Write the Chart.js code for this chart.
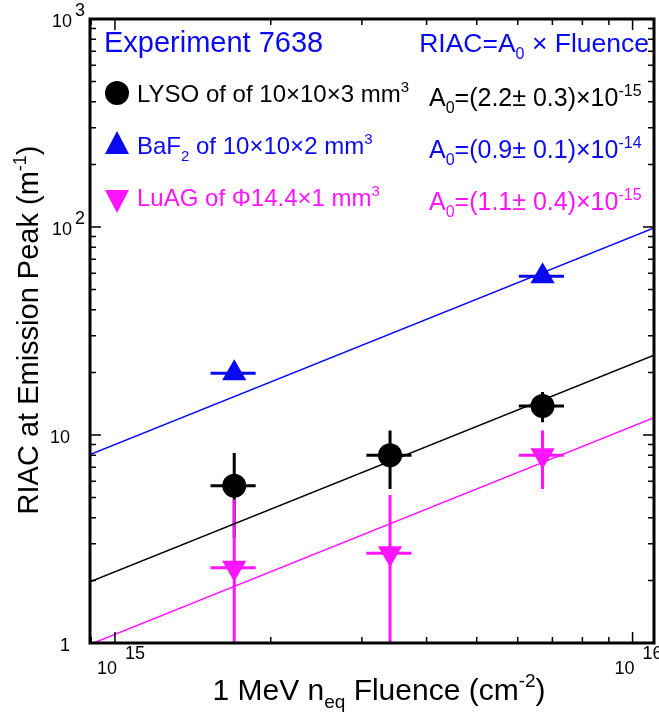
<!DOCTYPE html>
<html>
<head>
<meta charset="utf-8">
<script src="https://cdn.jsdelivr.net/npm/chart.js@4/dist/chart.umd.min.js"></script>
<style>
  html, body { margin: 0; padding: 0; background: #fff; }
  #wrap { width: 659px; height: 712px; }
</style>
</head>
<body>
<div id="wrap"><canvas id="c" width="659" height="712"></canvas></div>
<script>
'use strict';

// fluence points (cm^-2) and RIAC values (m^-1)
var fluence = [1.7e15, 3.4e15, 6.7e15];
var fluenceErr = [0.17e15, 0.34e15, 0.67e15];
var lysoRiac = [5.7, 8.0, 13.8];
var lysoErr = [2.5, 2.5, 2.3];
var baf2Fluence = [1.7e15, 6.7e15];
var baf2FluenceErr = [0.17e15, 0.67e15];
var baf2Riac = [19.8, 58];
var baf2Err = [0.8, 2.0];
var luagRiac = [2.3, 2.7, 8.0];
var luagErr = [2.6, 2.45, 2.5];

// fitted lines RIAC = A0 x Fluence, end points at the axis limits
var fitFluence = [8.95e14, 1.1e16];
var lysoFit = [1.97, 24.2];
var baf2Fit = [8.05, 99];
var luagFit = [0.985, 12.1];

var xTicks = [1e15, 1e16];
var xTickExp = ['15', '16'];
var yTicks = [1, 10, 100, 1000];
var yTickLabels = [['1', ''], ['10', ''], ['10', '2'], ['10', '3']];

var BLACK = '#000000', BLUE = '#0a0af0', MAGENTA = '#ff14ff';
var FONT = '"Liberation Sans", Arial, sans-serif';

function pts(xs, ys) {
  return xs.map(function(x, i) { return { x: x, y: ys[i] }; });
}

// text with sub/superscript pieces: [[text, 'n'|'sup'|'sub'], ...]
function richWidth(ctx, parts, size) {
  var w = 0;
  parts.forEach(function(p) {
    var s = p[1] === 'n' ? size : Math.round(size * 0.62);
    ctx.font = s + 'px ' + FONT;
    w += ctx.measureText(p[0]).width;
  });
  return w;
}
function drawRich(ctx, parts, x, y, size, color, align) {
  var w = richWidth(ctx, parts, size);
  var cx = align === 'center' ? x - w / 2 : (align === 'right' ? x - w : x);
  ctx.fillStyle = color;
  ctx.textBaseline = 'alphabetic';
  ctx.textAlign = 'left';
  parts.forEach(function(p) {
    var s = p[1] === 'n' ? size : Math.round(size * 0.62);
    var dy = p[1] === 'sup' ? -size * 0.42 : (p[1] === 'sub' ? size * 0.28 : 0);
    ctx.font = s + 'px ' + FONT;
    ctx.fillText(p[0], cx, y + dy);
    cx += ctx.measureText(p[0]).width;
  });
}

function errBars(ctx, chart, xs, xe, ys, ye, color) {
  var xs_ = chart.scales.x, ys_ = chart.scales.y, a = chart.chartArea;
  ctx.save();
  ctx.beginPath();
  ctx.rect(a.left, a.top, a.right - a.left, a.bottom - a.top);
  ctx.clip();
  ctx.strokeStyle = color;
  ctx.lineWidth = 3;
  xs.forEach(function(x, i) {
    var px = xs_.getPixelForValue(x), py = ys_.getPixelForValue(ys[i]);
    var lo = Math.max(ys[i] - ye[i], 0.5);
    ctx.beginPath();
    ctx.moveTo(px, ys_.getPixelForValue(ys[i] + ye[i]));
    ctx.lineTo(px, ys_.getPixelForValue(lo));
    ctx.moveTo(xs_.getPixelForValue(x - xe[i]), py);
    ctx.lineTo(xs_.getPixelForValue(x + xe[i]), py);
    ctx.stroke();
  });
  ctx.restore();
}

var decor = {
  id: 'decor',
  beforeDatasetsDraw: function(chart) {
    var ctx = chart.ctx;
    errBars(ctx, chart, fluence, fluenceErr, lysoRiac, lysoErr, BLACK);
    errBars(ctx, chart, baf2Fluence, baf2FluenceErr, baf2Riac, baf2Err, BLUE);
    errBars(ctx, chart, fluence, fluenceErr, luagRiac, luagErr, MAGENTA);
  },
  afterDraw: function(chart) {
    var ctx = chart.ctx, a = chart.chartArea;
    var sx = chart.scales.x, sy = chart.scales.y;
    ctx.save();
    ctx.strokeStyle = '#000';
    ctx.lineWidth = 1.5;
    // inward ticks, all four sides
    var d, m, v, p, len;
    for (d = 14; d <= 16; d++) {
      for (m = 1; m <= 9; m++) {
        v = m * Math.pow(10, d);
        if (v < sx.min || v > sx.max) continue;
        p = sx.getPixelForValue(v);
        len = m === 1 ? 11 : 6;
        ctx.beginPath();
        ctx.moveTo(p, a.bottom); ctx.lineTo(p, a.bottom - len);
        ctx.moveTo(p, a.top); ctx.lineTo(p, a.top + len);
        ctx.stroke();
      }
    }
    for (d = 0; d <= 2; d++) {
      for (m = 1; m <= 9; m++) {
        v = m * Math.pow(10, d);
        p = sy.getPixelForValue(v);
        len = m === 1 ? 11 : 6;
        ctx.beginPath();
        ctx.moveTo(a.left, p); ctx.lineTo(a.left + len, p);
        ctx.moveTo(a.right, p); ctx.lineTo(a.right - len, p);
        ctx.stroke();
      }
    }
    // frame
    ctx.lineWidth = 3;
    ctx.strokeRect(a.left, a.top, a.right - a.left, a.bottom - a.top);

    // tick labels
    xTicks.forEach(function(v, i) {
      var px = sx.getPixelForValue(v);
      ctx.font = '18px ' + FONT;
      ctx.fillStyle = '#000';
      ctx.textAlign = 'right';
      ctx.fillText('10', px + 2, a.bottom + 31);
      ctx.textAlign = 'left';
      ctx.fillText(xTickExp[i], px + 10, a.bottom + 16);
    });
    yTicks.forEach(function(v, i) {
      var py = sy.getPixelForValue(v);
      var lab = yTickLabels[i];
      ctx.font = '18px ' + FONT;
      ctx.fillStyle = '#000';
      ctx.textAlign = 'right';
      if (lab[1]) {
        ctx.fillText('10', a.left - 18, py + 8);
        ctx.textAlign = 'left';
        ctx.fillText(lab[1], a.left - 15, py - 3);
      } else {
        ctx.fillText(lab[0], a.left - 20, py + 8);
      }
    });

    // axis titles
    drawRich(ctx, [['1 MeV n', 'n'], ['eq', 'sub'], [' Fluence (cm', 'n'], ['-2', 'sup'], [')', 'n']],
      379, 700, 30, '#000', 'center');
    ctx.save();
    ctx.translate(38, 330);
    ctx.rotate(-Math.PI / 2);
    drawRich(ctx, [['RIAC at Emission Peak (m', 'n'], ['-1', 'sup'], [')', 'n']], 0, 0, 29, '#000', 'center');
    ctx.restore();

    // headline
    drawRich(ctx, [['Experiment 7638', 'n']], 104, 52, 29, BLUE, 'left');
    drawRich(ctx, [['RIAC=A', 'n'], ['0', 'sub'], [' \u00d7 Fluence', 'n']], 649, 52, 26.5, BLUE, 'right');

    // legend markers
    ctx.fillStyle = BLACK;
    ctx.beginPath(); ctx.arc(117, 93, 12, 0, Math.PI * 2); ctx.fill();
    ctx.fillStyle = BLUE;
    ctx.beginPath(); ctx.moveTo(117, 131); ctx.lineTo(129, 154); ctx.lineTo(105, 154); ctx.closePath(); ctx.fill();
    ctx.fillStyle = MAGENTA;
    ctx.beginPath(); ctx.moveTo(105, 190); ctx.lineTo(129, 190); ctx.lineTo(117, 213); ctx.closePath(); ctx.fill();

    // legend labels
    drawRich(ctx, [['LYSO of of 10\u00d710\u00d73 mm', 'n'], ['3', 'sup']], 137, 102, 24, BLACK, 'left');
    drawRich(ctx, [['BaF', 'n'], ['2', 'sub'], [' of 10\u00d710\u00d72 mm', 'n'], ['3', 'sup']], 137, 154, 24, BLUE, 'left');
    drawRich(ctx, [['LuAG of \u03a614.4\u00d71 mm', 'n'], ['3', 'sup']], 137, 206, 24, MAGENTA, 'left');
    drawRich(ctx, [['A', 'n'], ['0', 'sub'], ['=(2.2\u00b1 0.3)\u00d710', 'n'], ['-15', 'sup']], 429, 106, 25, BLACK, 'left');
    drawRich(ctx, [['A', 'n'], ['0', 'sub'], ['=(0.9\u00b1 0.1)\u00d710', 'n'], ['-14', 'sup']], 429, 158, 25, BLUE, 'left');
    drawRich(ctx, [['A', 'n'], ['0', 'sub'], ['=(1.1\u00b1 0.4)\u00d710', 'n'], ['-15', 'sup']], 429, 210, 25, MAGENTA, 'left');
    ctx.restore();
  }
};

new Chart(document.getElementById('c'), {
  type: 'scatter',
  data: {
    datasets: [
      { type: 'line', data: pts(fitFluence, lysoFit), borderColor: BLACK, borderWidth: 1.5, pointRadius: 0, fill: false },
      { type: 'line', data: pts(fitFluence, baf2Fit), borderColor: BLUE, borderWidth: 1.5, pointRadius: 0, fill: false },
      { type: 'line', data: pts(fitFluence, luagFit), borderColor: MAGENTA, borderWidth: 1.5, pointRadius: 0, fill: false },
      { data: pts(fluence, lysoRiac), pointStyle: 'circle', pointRadius: 12, backgroundColor: BLACK, borderWidth: 0 },
      { data: pts(baf2Fluence, baf2Riac), pointStyle: 'triangle', pointRadius: 14, backgroundColor: BLUE, borderWidth: 0 },
      { data: pts(fluence, luagRiac), pointStyle: 'triangle', rotation: 180, pointRadius: 14, backgroundColor: MAGENTA, borderWidth: 0 }
    ]
  },
  options: {
    responsive: false,
    animation: false,
    events: [],
    layout: { autoPadding: false, padding: { left: 90, right: 5, top: 19, bottom: 69 } },
    plugins: { legend: { display: false }, tooltip: { enabled: false } },
    scales: {
      x: { type: 'logarithmic', display: false, min: fitFluence[0], max: fitFluence[1] },
      y: { type: 'logarithmic', display: false, min: 1, max: 1000 }
    }
  },
  plugins: [decor]
});
</script>
</body>
</html>
